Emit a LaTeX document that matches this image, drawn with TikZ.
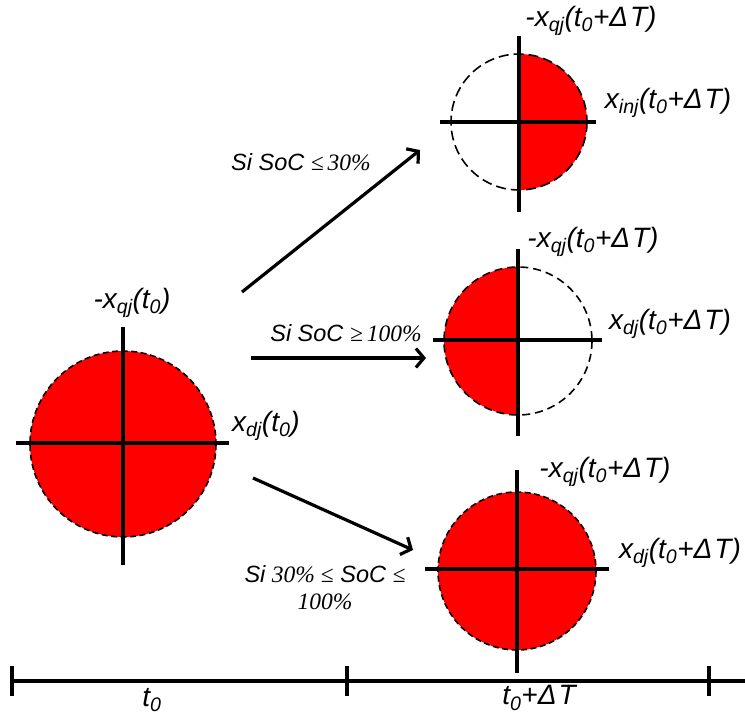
\documentclass[tikz,border=0pt]{standalone}
\usepackage{fontspec}
\setmainfont{Liberation Sans}
\newfontfamily\serif{Liberation Serif}
\usetikzlibrary{positioning, arrows.meta}
\definecolor{socred}{HTML}{FF0000}

\begin{document}
\begin{tikzpicture}[x=1pt, y=-1pt,
  font=\fontsize{28}{32}\selectfont\itshape,
  axis/.style={line width=3.3pt},
  rim/.style={line width=1.6pt, dash pattern=on 6pt off 3.5pt},
  flow/.style={line width=3.2pt, -{Straight Barb[length=8pt, width=19pt]}},
  lbl/.style={inner sep=0pt},
  cond/.style={inner sep=0pt, font=\fontsize{23.5}{27}\selectfont\itshape, align=center}
]
  \useasboundingbox (0,0) rectangle (745,715);

  % state at t0
  \coordinate (c0) at (123,444);
  \fill[socred] (c0) circle[radius=93];
  \draw[rim] (c0) circle[radius=93];
  \draw[axis] (123,327) -- (123,565);
  \draw[axis] (16,443) -- (229,443);
  \node[lbl] (q0) at (132,303) {-x\textsubscript{qj}(t\textsubscript{0})};
  \node[lbl] (d0) at (266,426) {x\textsubscript{dj}(t\textsubscript{0})};

  % SoC <= 30%
  \coordinate (cA) at (519,122);
  \fill[socred] (519,54) arc[start angle=-90, end angle=90, radius=68] -- cycle;
  \draw[rim, dash pattern=on 10pt off 5pt] (cA) circle[radius=68];
  \draw[axis] (519,36) -- (519,212);
  \draw[axis] (440,122) -- (596,122);
  \node[lbl] (qA) at (591,21) {-x\textsubscript{qj}(t\textsubscript{0}+Δ\kern2pt T)};
  \node[lbl] (dA) at (668,103) {x\textsubscript{inj}(t\textsubscript{0}+Δ\kern2pt T)};

  % SoC >= 100%
  \coordinate (cB) at (518,341);
  \fill[socred] (518,267) arc[start angle=270, end angle=90, radius=74] -- cycle;
  \draw[rim, dash pattern=on 8pt off 5pt] (cB) circle[radius=74];
  \draw[axis] (518,249) -- (518,436);
  \draw[axis] (433,340) -- (602,340);
  \node[lbl] (qB) at (593,242) {-x\textsubscript{qj}(t\textsubscript{0}+Δ\kern2pt T)};
  \node[lbl] (dB) at (670,324) {x\textsubscript{dj}(t\textsubscript{0}+Δ\kern2pt T)};

  % 30% <= SoC <= 100%
  \coordinate (cC) at (517,571);
  \fill[socred] (cC) circle[radius=79];
  \draw[rim] (cC) circle[radius=79];
  \draw[axis] (517,470) -- (517,673);
  \draw[axis] (425,569) -- (609,569);
  \node[lbl] (qC) at (605,472) {-x\textsubscript{qj}(t\textsubscript{0}+Δ\kern2pt T)};
  \node[lbl] (dC) at (680,553) {x\textsubscript{dj}(t\textsubscript{0}+Δ\kern2pt T)};

  % transitions
  \coordinate (fromA) at (242,292); \coordinate (toA) at (420,150);
  \coordinate (fromB) at (251,358); \coordinate (toB) at (426,358);
  \coordinate (fromC) at (253,478); \coordinate (toC) at (413,550);
  \draw[flow] (fromA) -- (toA);
  \draw[flow] (fromB) -- (toB);
  \draw[flow] (fromC) -- (toC);
  \node[cond] (sA) at (301,162) {Si SoC {\serif ≤\,\itshape 30\%}};
  \node[cond] (sB) at (346,333) {Si SoC {\serif ≥\,\itshape 100\%}};
  \node[cond] (sC) at (325,588) {Si {\serif\itshape 30\% \upshape≤} SoC {\serif ≤}\\{\serif\itshape 100\%}};

  % time axis
  \coordinate (tL) at (10,681); \coordinate (tR) at (745,681);
  \draw[axis] (tL) -- (tR);
  \foreach \x in {12, 347, 709} {
    \draw[axis] (\x,666) -- (\x,696);
  }
  \node[lbl] (t0) at (152,700) {t\textsubscript{0}};
  \node[lbl] (t1) at (539,698) {t\textsubscript{0}+Δ\kern2pt T};
\end{tikzpicture}
\end{document}
